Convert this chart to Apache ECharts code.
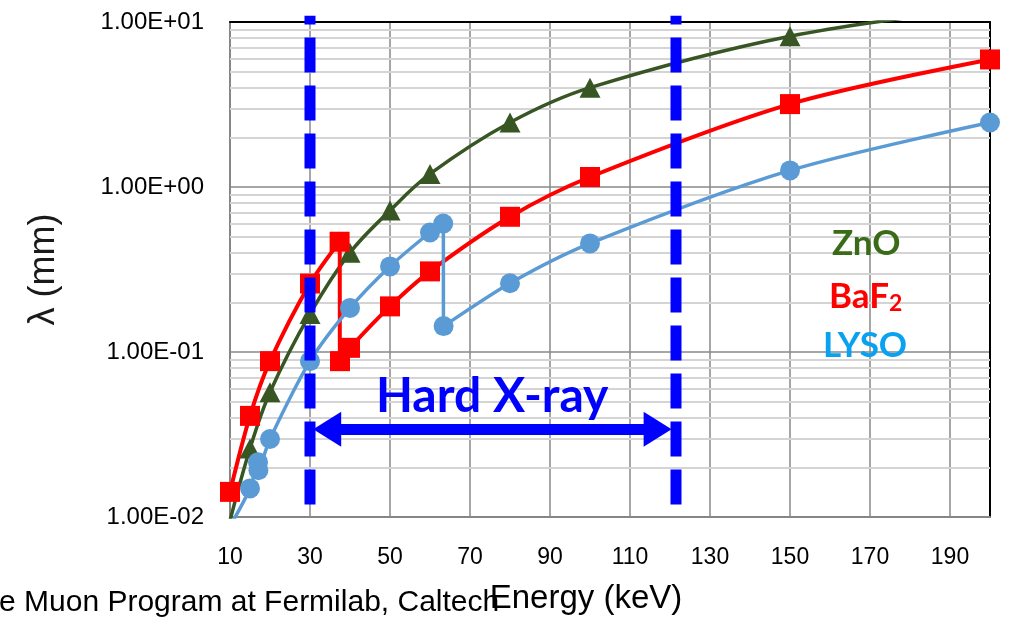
<!DOCTYPE html>
<html>
<head>
<meta charset="utf-8">
<script src="https://cdn.jsdelivr.net/npm/echarts@6/dist/echarts.min.js"></script>
<style>
  html, body { margin: 0; padding: 0; background: #fff; }
  #chart { width: 1013px; height: 620px; }
</style>
</head>
<body>
<div id="chart"></div>
<script>
// Attenuation length λ (mm) versus photon energy (keV)
const znoEnergy   = [10, 15, 20, 30, 40, 50, 60, 80, 100, 150, 200];
const znoLambda   = [0.0095, 0.026, 0.057, 0.17, 0.40, 0.72, 1.20, 2.46, 4.0, 8.2, 12.3];

const baf2Energy  = [10, 15, 20, 30, 37.4, 37.5, 40, 50, 60, 80, 100, 150, 200];
const baf2Lambda  = [0.0142, 0.041, 0.088, 0.26, 0.466, 0.088, 0.106, 0.189, 0.308, 0.66, 1.15, 3.18, 5.93];

const lysoEnergy  = [10, 15, 17.0, 17.1, 20, 30, 40, 50, 60, 63.3, 63.4, 80, 100, 150, 200];
const lysoLambda  = [0.0088, 0.0149, 0.0215, 0.0192, 0.0297, 0.088, 0.185, 0.33, 0.53, 0.60, 0.1435, 0.261, 0.455, 1.26, 2.46];

// Hard X-ray band: edges (keV), vertical span of the dashed markers, arrow level
const hardXrayEdges = [30, 121.5];
const edgeSpan      = [0.0119, 10.9];
const arrowEnds     = [34.3, 116.9];
const arrowLevel    = 0.034;

// Axis ranges
const xMin = 10, xMax = 200, xStep = 20;
const yMin = 0.01, yMax = 10;

const pairs = (xs, ys) => xs.map((x, i) => [x, ys[i]]);

// light log-scale gridlines at 2..9 within each decade
const minorLevels = [];
for (let d = yMin; d < yMax; d *= 10) {
  for (let m = 2; m <= 9; m++) minorLevels.push(+(d * m).toPrecision(3));
}

function sciLabel(v) {
  const e = Math.round(Math.log10(v));
  return '1.00E' + (e < 0 ? '-' : '+') + String(Math.abs(e)).padStart(2, '0');
}

const BLUE = '#0000FF';
const edgeSeries = hardXrayEdges.map((x) => ({
  type: 'line',
  data: [[x, edgeSpan[0]], [x, edgeSpan[1]]],
  symbol: 'none',
  clip: false,
  silent: true,
  z: 6,
  lineStyle: { color: BLUE, width: 11, type: [35, 13], cap: 'butt' }
}));

const chart = echarts.init(document.getElementById('chart'), null, { renderer: 'canvas' });
chart.setOption({
  animation: false,
  backgroundColor: '#fff',
  grid: { left: 230, right: 23, top: 22, bottom: 100, containLabel: false },
  xAxis: [{
    type: 'value',
    min: xMin, max: xMax, interval: xStep,
    axisLine: { show: true, lineStyle: { color: '#868686', width: 2 } },
    axisTick: { show: false },
    axisLabel: {
      showMaxLabel: false, margin: 29,
      fontFamily: 'Liberation Sans', fontSize: 23, color: '#000'
    },
    splitLine: { show: true, lineStyle: { color: '#888', width: 1.5 } },
    name: 'Energy (keV)', nameLocation: 'middle', nameGap: 65,
    nameTextStyle: { fontFamily: 'Liberation Sans', fontSize: 33, color: '#000', padding: [0, 48, 0, 0] }
  }, {
    type: 'value', position: 'top', min: xMin, max: xMax,
    axisLine: { show: true, onZero: false, lineStyle: { color: '#000', width: 2 } },
    axisTick: { show: false }, axisLabel: { show: false }, splitLine: { show: false }
  }],
  yAxis: [{
    type: 'log', logBase: 10, min: yMin, max: yMax,
    axisLine: { show: true, lineStyle: { color: '#868686', width: 2 } },
    axisTick: { show: false },
    axisLabel: {
      formatter: sciLabel, margin: 26,
      fontFamily: 'Liberation Sans', fontSize: 24, color: '#000'
    },
    splitLine: { show: true, lineStyle: { color: '#888', width: 1.5 } },
    name: 'λ (mm)', nameLocation: 'middle', nameRotate: 90, nameGap: 168,
    nameTextStyle: { fontFamily: 'Liberation Sans', fontSize: 36, color: '#1a1a1a' }
  }, {
    type: 'value', position: 'right', min: 0, max: 1,
    axisLine: { show: true, onZero: false, lineStyle: { color: '#000', width: 2 } },
    axisTick: { show: false }, axisLabel: { show: false }, splitLine: { show: false }
  }],
  series: [
    {
      type: 'line', data: [], silent: true, z: 1,
      markLine: {
        silent: true, symbol: 'none', animation: false, z: 1,
        label: { show: false },
        lineStyle: { color: '#d4d4d4', width: 2, type: 'solid' },
        data: minorLevels.map((v) => ({ yAxis: v }))
      }
    },
    {
      name: 'ZnO', type: 'line', data: pairs(znoEnergy, znoLambda),
      smooth: 0.35, clip: true, z: 3,
      symbol: 'triangle', symbolSize: [21, 20],
      itemStyle: { color: '#375623' },
      lineStyle: { color: '#375623', width: 3.5 }
    },
    {
      name: 'BaF2', type: 'line', data: pairs(baf2Energy, baf2Lambda),
      smooth: 0.3, clip: true, z: 3,
      symbol: 'rect', symbolSize: 20,
      itemStyle: { color: '#FF0000' },
      lineStyle: { color: '#FF0000', width: 4 }
    },
    {
      name: 'LYSO', type: 'line', data: pairs(lysoEnergy, lysoLambda),
      smooth: 0.3, clip: true, z: 3,
      symbol: 'circle', symbolSize: 20,
      itemStyle: { color: '#5B9BD5' },
      lineStyle: { color: '#5B9BD5', width: 3.5 }
    },
    ...edgeSeries,
    {
      type: 'line', data: [], silent: true, z: 7,
      markLine: {
        silent: true, animation: false, z: 7,
        symbol: ['triangle', 'triangle'], symbolSize: [35, 28],
        label: { show: false },
        lineStyle: { color: BLUE, width: 11, type: 'solid' },
        data: [[{ coord: [arrowEnds[0], arrowLevel] }, { coord: [arrowEnds[1], arrowLevel] }]]
      }
    }
  ],
  graphic: [
    {
      type: 'text', left: 376, top: 373, z: 10,
      style: { text: 'Hard X-ray', fill: BLUE, font: 'bold 48px Lato' }
    },
    {
      type: 'text', left: 832, top: 226, z: 10,
      style: { text: 'ZnO', fill: '#3A6B16', font: 'bold 35px Lato' }
    },
    {
      type: 'text', left: 829, top: 279, z: 10,
      style: {
        text: '{m|BaF}{s|2}', fill: '#FF0000',
        rich: {
          m: { font: 'bold 35px Lato', fill: '#FF0000' },
          s: { font: 'bold 23px Lato', fill: '#FF0000', padding: [15, 0, 0, 0] }
        }
      }
    },
    {
      type: 'text', left: 823, top: 328, z: 10,
      style: { text: 'LYSO', fill: '#0AA2F0', font: 'bold 35px Lato' }
    },
    {
      type: 'text', left: -1, top: 588, z: 0,
      style: { text: 'e Muon Program at Fermilab, Caltech', fill: '#000', font: '30px "Liberation Sans"' }
    }
  ]
});
</script>
</body>
</html>
